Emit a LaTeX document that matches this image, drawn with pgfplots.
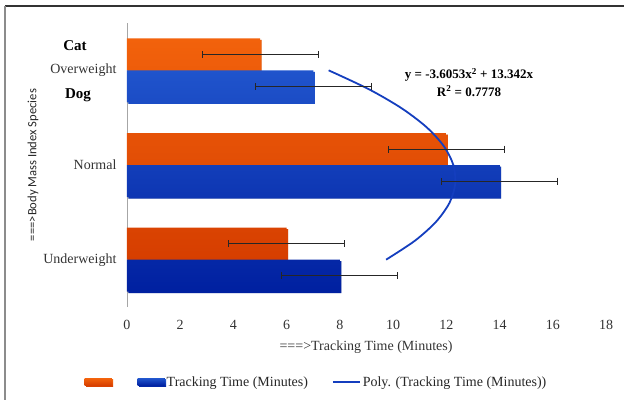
\documentclass[border=0pt]{standalone}
\usepackage{pgfplots}
\pgfplotsset{compat=1.18}
\usepackage{fontspec}
\setmainfont{Liberation Serif}
\newfontfamily\carlito{Carlito}
\definecolor{orTop}{RGB}{242,98,12}
\definecolor{orBot}{RGB}{214,62,0}
\definecolor{blTop}{RGB}{32,84,204}
\definecolor{blBot}{RGB}{0,32,160}
\definecolor{trend}{RGB}{20,62,190}
\begin{document}
\begin{tikzpicture}[x=1pt,y=1pt]
\useasboundingbox (0,0) rectangle (624,400);
\draw[line width=1.5pt, black!80] (5,394) -- (624,394);
\draw[line width=1.5pt, black!45] (5,394) -- (5,0);
\begin{axis}[
  at={(127pt,93pt)}, anchor=south west,
  width=479pt, height=284pt, scale only axis,
  xmin=0, xmax=18, ymin=0.5, ymax=3.5,
  xtick={0,2,...,18},
  ytick={1,2,3},
  yticklabels={Underweight,Normal,Overweight},
  axis x line*=bottom, axis y line*=left,
  x axis line style={draw=none},
  y axis line style={draw=black!35, line width=0.8pt, -},
  xtick style={draw=none}, ytick style={draw=none},
  tick label style={font=\fontsize{14}{16}\selectfont, text=black!80},
  xticklabel style={yshift=-10pt},
  yticklabel style={xshift=-7pt},
  /pgf/number format/assume math mode=true,
  xlabel={===>Tracking Time (Minutes)},
  xlabel style={at={(axis description cs:0.499,-0.14)}, anchor=center, font=\fontsize{14}{16}\selectfont, text=black!80},
  ylabel={\carlito ===>Body Mass Index Species},
  ylabel style={at={(axis description cs:-0.196,0.5)}, anchor=center, rotate=0, font=\fontsize{12.6}{14}\selectfont, text=black!85},
  legend columns=3,
  legend style={draw=none, fill=none, at={(axis description cs:-0.095,-0.264)}, anchor=west,
    font=\fontsize{14}{16}\selectfont, text=black!85,
    /tikz/every even column/.append style={column sep=22pt}},
  clip=false,
  error bars/error bar style={black!85, line width=0.9pt},
  error bars/error mark options={black!85, line width=0.9pt, mark size=3.5pt, rotate=90},
]
\addplot[xbar, bar width=32pt, bar shift=16pt, draw=none, top color=orTop, bottom color=orBot,
  preaction={fill=black!18, transform canvas={shift={(1.5pt,-1.5pt)}}},
  area legend,
  legend image code/.code={\fill[orTop] (0pt,-3.5pt) rectangle (27pt,3.5pt);}]
  coordinates {(6,1) (12,2) (5,3)};
\addlegendentry{\hspace{8pt}}
\addplot[xbar, bar width=32pt, bar shift=-16pt, draw=none, top color=blTop, bottom color=blBot,
  preaction={fill=black!18, transform canvas={shift={(1.5pt,-1.5pt)}}},
  area legend,
  legend image code/.code={\fill[blBot] (0pt,-3.5pt) rectangle (27pt,3.5pt);}]
  coordinates {(8,1) (14,2) (7,3)};
\addlegendentry{Tracking Time (Minutes)}
\addplot[trend, line width=1.8pt, smooth, no marks,
  legend image code/.code={\draw[trend, line width=1.8pt] (0pt,0pt) -- (27pt,0pt);}]
  coordinates {(9.737,1) (10.819,1.2) (11.612,1.4) (12.118,1.6) (12.334,1.8) (12.263,2.0)
    (11.903,2.2) (11.254,2.4) (10.317,2.6) (9.092,2.8) (7.578,3.0)};
\addlegendentry{Poly. (Tracking Time (Minutes))}
% error bars of the orange (Cat) bars
\addplot[draw=none, no marks, forget plot,
  error bars/.cd, x dir=both, x explicit]
  coordinates {(6,1.169) +- (2.18,0) (12,2.169) +- (2.18,0) (5,3.169) +- (2.18,0)};
% error bars of the blue (Dog) bars
\addplot[draw=none, no marks, forget plot,
  error bars/.cd, x dir=both, x explicit]
  coordinates {(8,0.831) +- (2.18,0) (14,1.831) +- (2.18,0) (7,2.831) +- (2.18,0)};
\end{axis}
\node[font=\bfseries\fontsize{15}{17}\selectfont] at (75,354) {Cat};
\node[font=\bfseries\fontsize{15}{17}\selectfont] at (78,305) {Dog};
\node[font=\bfseries\fontsize{13}{15}\selectfont] at (469,325) {y = -3.6053x\textsuperscript{2} + 13.342x};
\node[font=\bfseries\fontsize{13}{15}\selectfont] at (469,309) {R\textsuperscript{2} = 0.7778};
\end{tikzpicture}
\end{document}
